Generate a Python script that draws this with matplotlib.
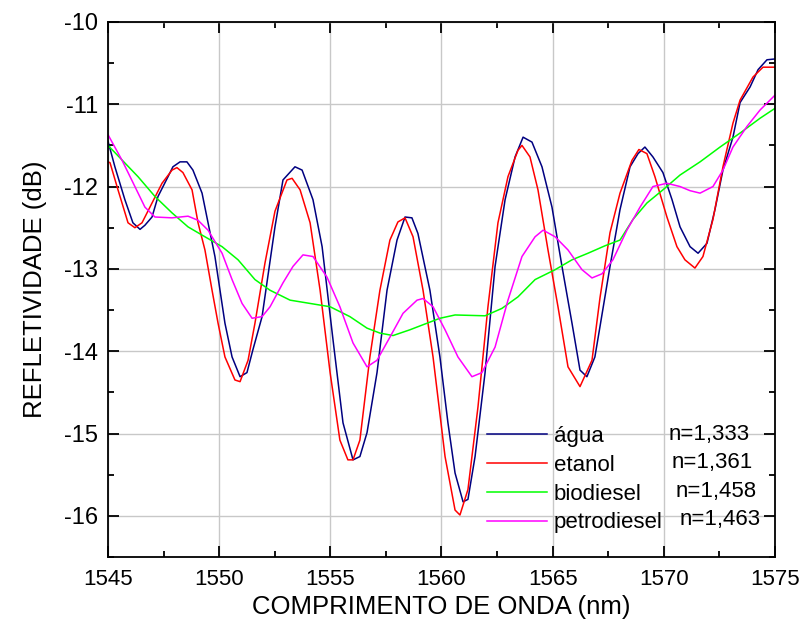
import matplotlib
matplotlib.use('Agg')
import matplotlib.pyplot as plt
from matplotlib.ticker import MultipleLocator

plt.rcParams['font.family'] = 'Liberation Sans'
plt.rcParams['axes.unicode_minus'] = False

# dados (comprimento de onda em nm, refletividade em dB)
agua_x = [1545.0, 1545.31, 1545.76, 1546.12, 1546.44, 1546.66, 1546.98, 1547.25, 1547.7, 1547.92,
          1548.24, 1548.55, 1548.82, 1549.23, 1549.5, 1549.81, 1550.26, 1550.58, 1550.94, 1551.25,
          1551.52, 1551.93, 1552.51, 1552.87, 1553.41, 1553.73, 1554.22, 1554.63, 1555.12, 1555.57,
          1556.02, 1556.33, 1556.65, 1557.1, 1557.55, 1558.0, 1558.36, 1558.67, 1558.94, 1559.48,
          1559.93, 1560.29, 1560.61, 1560.97, 1561.19, 1561.51, 1561.96, 1562.41, 1562.86, 1563.31,
          1563.67, 1564.07, 1564.52, 1564.97, 1565.42, 1565.87, 1566.23, 1566.54, 1566.9, 1567.13,
          1567.58, 1568.03, 1568.48, 1568.84, 1569.15, 1569.51, 1569.96, 1570.37, 1570.73, 1571.18,
          1571.54, 1571.94, 1572.3, 1572.66, 1573.11, 1573.43, 1573.88, 1574.24, 1574.64, 1575.0]
agua_y = [-11.45, -11.76, -12.16, -12.44, -12.52, -12.47, -12.37, -12.12, -11.88, -11.76,
          -11.7, -11.7, -11.8, -12.08, -12.44, -12.85, -13.66, -14.07, -14.31, -14.26,
          -13.98, -13.58, -12.49, -11.92, -11.76, -11.8, -12.16, -12.73, -13.86, -14.87,
          -15.32, -15.28, -14.99, -14.26, -13.26, -12.65, -12.37, -12.38, -12.57, -13.26,
          -14.07, -14.87, -15.48, -15.83, -15.8, -15.28, -14.26, -12.97, -12.16, -11.64,
          -11.4, -11.46, -11.76, -12.25, -12.97, -13.66, -14.23, -14.31, -14.07, -13.7,
          -12.97, -12.28, -11.76, -11.6, -11.52, -11.64, -11.83, -12.16, -12.49, -12.73,
          -12.81, -12.69, -12.28, -11.8, -11.4, -10.98, -10.79, -10.58, -10.46, -10.45]

etanol_x = [1545.0, 1545.09, 1545.45, 1545.9, 1546.21, 1546.53, 1546.98, 1547.43, 1547.88, 1548.1,
            1548.37, 1548.78, 1549.05, 1549.36, 1549.68, 1549.95, 1550.26, 1550.71, 1550.94, 1551.3,
            1551.61, 1552.06, 1552.51, 1553.05, 1553.28, 1553.64, 1554.09, 1554.54, 1554.99, 1555.43,
            1555.79, 1556.02, 1556.33, 1556.78, 1557.23, 1557.68, 1558.04, 1558.36, 1558.72, 1559.17,
            1559.62, 1560.16, 1560.61, 1560.83, 1561.19, 1561.64, 1562.09, 1562.54, 1562.99, 1563.44,
            1563.62, 1563.98, 1564.34, 1564.79, 1565.24, 1565.69, 1566.23, 1566.77, 1567.13, 1567.58,
            1568.03, 1568.57, 1568.88, 1569.24, 1569.6, 1570.14, 1570.59, 1570.95, 1571.4, 1571.76,
            1572.21, 1572.66, 1573.11, 1573.43, 1574.01, 1574.46, 1575.0]
etanol_y = [-11.7, -11.71, -12.04, -12.44, -12.5, -12.44, -12.2, -11.96, -11.8, -11.77,
            -11.83, -12.04, -12.44, -12.77, -13.26, -13.66, -14.07, -14.35, -14.37, -14.11,
            -13.66, -12.93, -12.3, -11.92, -11.9, -12.04, -12.44, -13.26, -14.26, -15.08,
            -15.32, -15.32, -15.08, -14.07, -13.26, -12.65, -12.43, -12.38, -12.61, -13.26,
            -14.07, -15.28, -15.93, -15.99, -15.68, -14.68, -13.46, -12.44, -11.88, -11.56,
            -11.5, -11.64, -12.04, -12.77, -13.46, -14.19, -14.43, -14.11, -13.35, -12.56,
            -12.08, -11.68, -11.55, -11.6, -11.88, -12.37, -12.73, -12.89, -12.99, -12.85,
            -12.4, -11.76, -11.23, -10.95, -10.67, -10.55, -10.55]

biodiesel_x = [1545.0, 1546.35, 1547.11, 1547.88, 1548.6, 1549.36, 1550.13, 1550.85, 1551.61, 1552.29,
               1553.19, 1554.09, 1554.99, 1555.88, 1556.65, 1557.23, 1557.82, 1558.58, 1559.35, 1559.93,
               1560.61, 1561.96, 1562.72, 1563.44, 1564.21, 1565.11, 1565.87, 1566.59, 1567.35, 1568.03,
               1568.61, 1569.24, 1569.96, 1570.73, 1571.63, 1572.53, 1573.43, 1574.33, 1575.0]
biodiesel_y = [-11.5, -11.88, -12.12, -12.32, -12.49, -12.61, -12.73, -12.89, -13.13, -13.26,
               -13.38, -13.42, -13.46, -13.58, -13.72, -13.78, -13.81, -13.74, -13.66, -13.6,
               -13.56, -13.57, -13.48, -13.34, -13.13, -13.01, -12.89, -12.81, -12.72, -12.65,
               -12.4, -12.2, -12.04, -11.86, -11.7, -11.52, -11.35, -11.17, -11.05]

petro_x = [1545.0, 1545.63, 1546.21, 1546.66, 1547.11, 1547.88, 1548.6, 1549.05, 1549.5, 1550.13,
           1550.58, 1551.03, 1551.48, 1551.93, 1552.29, 1552.87, 1553.32, 1553.77, 1554.22, 1554.85,
           1555.43, 1556.02, 1556.65, 1557.1, 1557.68, 1558.27, 1558.9, 1559.17, 1559.62, 1560.16,
           1560.74, 1561.37, 1561.82, 1562.41, 1562.99, 1563.62, 1564.21, 1564.57, 1565.11, 1565.69,
           1566.32, 1566.77, 1567.22, 1567.71, 1568.34, 1568.93, 1569.51, 1570.14, 1570.73, 1571.18,
           1571.63, 1572.21, 1572.66, 1573.11, 1573.74, 1574.33, 1575.0]
petro_y = [-11.37, -11.68, -12.0, -12.25, -12.37, -12.38, -12.36, -12.41, -12.53, -12.81,
           -13.13, -13.42, -13.6, -13.58, -13.46, -13.17, -12.97, -12.83, -12.85, -13.1,
           -13.46, -13.9, -14.19, -14.11, -13.83, -13.54, -13.38, -13.36, -13.46, -13.74,
           -14.07, -14.31, -14.26, -13.95, -13.38, -12.85, -12.61, -12.53, -12.61, -12.77,
           -13.01, -13.11, -13.06, -12.89, -12.53, -12.25, -12.0, -11.96, -12.0, -12.05,
           -12.08, -12.0, -11.8, -11.52, -11.27, -11.07, -10.89]

nomes = ['água', 'etanol', 'biodiesel', 'petrodiesel']
indices = ['n=1,333', 'n=1,361', 'n=1,458', 'n=1,463']
cores = ['#000080', '#ff0000', '#00ff00', '#ff00ff']
series = [(agua_x, agua_y), (etanol_x, etanol_y), (biodiesel_x, biodiesel_y), (petro_x, petro_y)]

fig = plt.figure(figsize=(8.03, 6.37), dpi=100)
ax = fig.add_axes([0.1345, 0.1256, 0.8306, 0.84])

for (x, y), nome, cor in zip(series, nomes, cores):
    ax.plot(x, y, color=cor, lw=1.1, label=nome)

ax.set_xlim(1545, 1575)
ax.set_ylim(-16.5, -10)
ax.xaxis.set_major_locator(MultipleLocator(5))
ax.xaxis.set_minor_locator(MultipleLocator(2.5))
ax.yaxis.set_major_locator(MultipleLocator(1))
ax.yaxis.set_minor_locator(MultipleLocator(0.5))
ax.grid(True, which='major', color='#c8c8c8', lw=1.0)
ax.set_axisbelow(True)

for s in ax.spines.values():
    s.set_linewidth(1.3)
ax.tick_params(which='both', direction='in', top=True, right=True, width=1.3)
ax.tick_params(which='major', length=8)
ax.tick_params(which='minor', length=4.5)
ax.tick_params(axis='y', labelsize=17, pad=7)
ax.tick_params(axis='x', labelsize=16, pad=9)

ax.set_xlabel('COMPRIMENTO DE ONDA (nm)', fontsize=18.5, labelpad=3)
ax.set_ylabel('REFLETIVIDADE (dB)', fontsize=18.5, labelpad=12)

leg = ax.legend(loc='upper left', bbox_to_anchor=(0.568, 0.2445), frameon=False,
                fontsize=16, handlelength=2.7, handletextpad=0.3, labelspacing=0.35,
                borderpad=0, borderaxespad=0)

linhas_y = [0.228, 0.176, 0.123, 0.071]
linhas_x = [0.962, 0.967, 0.972, 0.978]
for t, xx, yy in zip(indices, linhas_x, linhas_y):
    ax.text(xx, yy, t, transform=ax.transAxes, ha='right', va='center', fontsize=16)

fig.savefig('out.png', dpi=100)
